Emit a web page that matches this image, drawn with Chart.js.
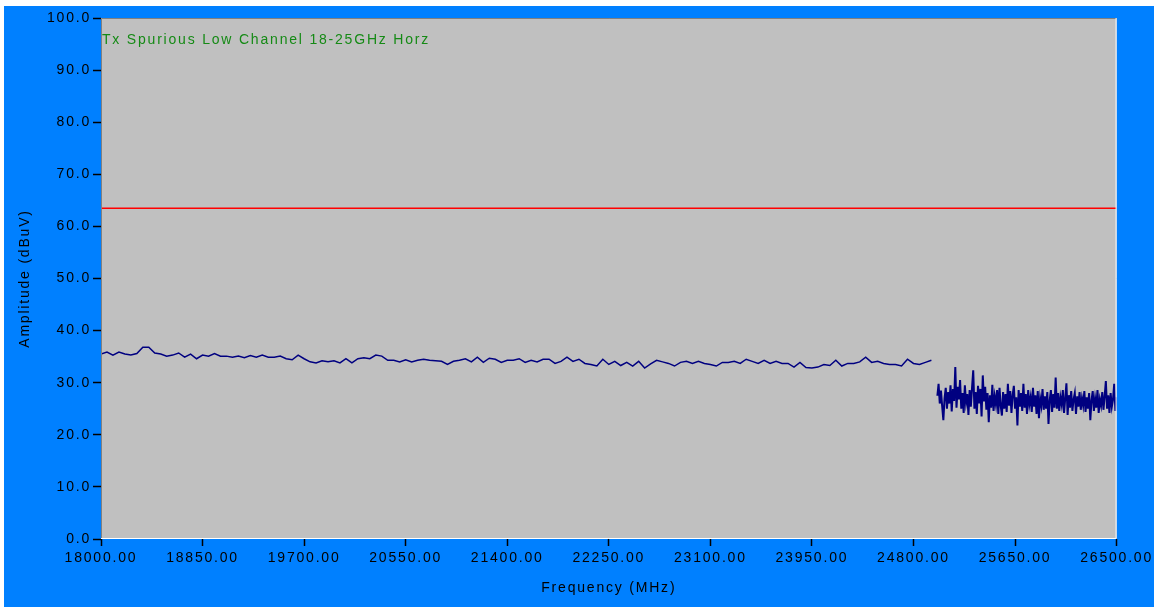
<!DOCTYPE html>
<html>
<head>
<meta charset="utf-8">
<script src="https://cdn.jsdelivr.net/npm/chart.js@4.4.1/dist/chart.umd.min.js"></script>
<style>
  html, body { margin: 0; padding: 0; background: #fff; }
</style>
</head>
<body>
<canvas id="chart" width="1157" height="607"></canvas>
<script>
// texts
const chartTitle = 'Tx Spurious Low Channel 18-25GHz Horz';
const xTitle = 'Frequency (MHz)';
const yTitle = 'Amplitude (dBuV)';

// axis range (MHz / dBuV)
const xMin = 18000, xMax = 26500, xStep = 850;
const yMin = 0, yMax = 100, yStep = 10;

// limit line
const limitLevel = 63.5;

// sweep 1: 18000 - 24950 MHz, 50 MHz steps
const sweep1Start = 18000, sweep1Step = 50;
const sweep1 = [
  35.5, 35.9, 35.3, 35.9, 35.5, 35.3, 35.6, 36.8, 36.8, 35.7,
  35.5, 35.1, 35.3, 35.7, 34.9, 35.5, 34.6, 35.3, 35.1, 35.6,
  35.1, 35.1, 34.9, 35.1, 34.8, 35.2, 34.9, 35.3, 34.9, 34.9,
  35.1, 34.6, 34.4, 35.3, 34.6, 34.0, 33.8, 34.2, 34.0, 34.2,
  33.8, 34.6, 33.8, 34.6, 34.8, 34.6, 35.3, 35.1, 34.3, 34.3,
  34.0, 34.4, 34.0, 34.3, 34.5, 34.3, 34.2, 34.1, 33.5, 34.1,
  34.3, 34.6, 34.0, 34.9, 33.9, 34.7, 34.5, 33.9, 34.3, 34.3,
  34.6, 33.9, 34.3, 34.0, 34.5, 34.5, 33.7, 34.1, 34.9, 34.1,
  34.5, 33.7, 33.5, 33.2, 34.5, 33.5, 34.1, 33.3, 33.9, 33.2,
  34.1, 32.8, 33.6, 34.3, 34.0, 33.7, 33.2, 33.9, 34.1, 33.7,
  34.1, 33.7, 33.5, 33.2, 33.9, 33.9, 34.1, 33.7, 34.5, 34.1,
  33.7, 34.3, 33.7, 34.1, 33.7, 33.7, 33.0, 33.9, 32.9, 32.8,
  33.0, 33.5, 33.3, 34.3, 33.2, 33.7, 33.7, 34.0, 34.9, 33.9,
  34.1, 33.7, 33.5, 33.5, 33.2, 34.5, 33.7, 33.5, 33.9, 34.3
];

// sweep 2: 25000 - 26500 MHz, 10 MHz steps
const sweep2Start = 25000, sweep2Step = 10;
const sweep2 = [
  27.5, 29.8, 26.0, 28.5, 25.5, 22.8, 27.0, 29.0, 25.0, 28.2,
  26.0, 29.5, 24.5, 28.8, 26.5, 33.0, 25.2, 29.2, 26.8, 30.5,
  25.0, 28.0, 24.2, 29.5, 26.2, 27.8, 23.8, 28.6, 25.4, 29.0,
  32.4, 25.0, 28.2, 24.0, 29.4, 26.0, 28.8, 23.5, 31.4, 26.4,
  29.2, 24.8, 28.0, 22.4, 27.6, 25.2, 29.6, 24.6, 27.4, 25.8,
  28.6, 24.0, 29.0, 25.6, 23.7, 28.2, 25.0, 27.8, 24.4, 29.8,
  25.6, 28.4, 24.2, 27.6, 29.4, 25.0, 27.2, 21.8, 28.6, 25.4,
  28.0, 24.6, 29.8, 25.2, 27.8, 24.0, 28.6, 25.8, 27.2, 24.4,
  29.0, 25.4, 27.6, 24.0, 28.4, 23.2, 27.0, 25.6, 28.8, 24.8,
  27.4, 25.0, 28.2, 22.1, 26.6, 28.6, 24.4, 27.8, 25.2, 31.0,
  25.0, 28.0, 24.6, 27.2, 25.8, 28.6, 24.2, 27.0, 29.9, 23.8,
  27.6, 25.2, 28.4, 24.6, 26.8, 28.0, 24.0, 27.4, 25.4, 28.2,
  24.8, 27.0, 25.6, 28.4, 24.4, 27.2, 25.0, 28.0, 22.8, 26.6,
  28.4, 24.6, 27.0, 25.2, 28.6, 24.2, 26.8, 25.6, 28.2, 24.8,
  27.4, 30.3, 25.0, 27.6, 24.2, 28.0, 25.4, 26.8, 29.8, 24.6,
  27.2
];

function toPoints(start, step, values) {
  return values.map((v, i) => ({ x: start + i * step, y: v }));
}

const FONT = 'Arial, "Liberation Sans", sans-serif';
const TEXT = '#000000';
const SIZE = 14;
const SPACING = '1.8px';

// the original text is drawn wide; widen it with letter spacing
function spaceText(chart) {
  if ('letterSpacing' in chart.ctx) chart.ctx.letterSpacing = SPACING;
}

const frame = {
  id: 'frame',
  beforeLayout(chart) { spaceText(chart); },
  beforeDraw(chart) {
    const { ctx, chartArea: a } = chart;
    spaceText(chart);
    ctx.save();
    ctx.fillStyle = '#ffffff';
    ctx.fillRect(0, 0, chart.width, chart.height);
    ctx.fillStyle = '#0080ff';
    ctx.fillRect(4, 6, 1150, 601);
    ctx.fillStyle = '#c0c0c0';
    ctx.fillRect(a.left, a.top, a.right - a.left, a.bottom - a.top);
    ctx.restore();
  },
  afterDatasetsDraw(chart) {
    const { ctx, chartArea: a } = chart;
    ctx.save();
    ctx.lineWidth = 1;
    ctx.strokeStyle = '#808080';
    ctx.beginPath();
    ctx.moveTo(a.left + 0.5, a.bottom);
    ctx.lineTo(a.left + 0.5, a.top + 0.5);
    ctx.lineTo(a.right, a.top + 0.5);
    ctx.stroke();
    ctx.strokeStyle = '#ffffff';
    ctx.beginPath();
    ctx.moveTo(a.left, a.bottom - 0.5);
    ctx.lineTo(a.right - 0.5, a.bottom - 0.5);
    ctx.lineTo(a.right - 0.5, a.top);
    ctx.stroke();
    // chart title inside the plot
    ctx.fillStyle = '#158a15';
    ctx.font = SIZE + 'px ' + FONT;
    ctx.textBaseline = 'middle';
    ctx.textAlign = 'left';
    ctx.fillText(chartTitle, a.left + 1, a.top + 22);
    ctx.restore();
  }
};

new Chart(document.getElementById('chart'), {
  type: 'line',
  data: {
    datasets: [
      {
        label: 'Limit',
        data: [{ x: xMin, y: limitLevel }, { x: xMax, y: limitLevel }],
        borderColor: '#ff0000',
        borderWidth: 1.5
      },
      {
        label: 'Sweep 1',
        data: toPoints(sweep1Start, sweep1Step, sweep1),
        borderColor: '#000080',
        borderWidth: 1.5
      },
      {
        label: 'Sweep 2',
        data: toPoints(sweep2Start, sweep2Step, sweep2),
        borderColor: '#000080',
        borderWidth: 2
      }
    ]
  },
  options: {
    responsive: false,
    animation: false,
    elements: { point: { radius: 0 }, line: { tension: 0 } },
    layout: { padding: { top: 18, right: 40, bottom: 0, left: 0 } },
    plugins: { legend: { display: false }, tooltip: { enabled: false } },
    scales: {
      x: {
        type: 'linear',
        min: xMin,
        max: xMax,
        afterFit(scale) { scale.height = 68; },
        afterBuildTicks(scale) {
          const t = [];
          for (let v = xMin; v <= xMax; v += xStep) t.push({ value: v });
          scale.ticks = t;
        },
        grid: { drawOnChartArea: false, drawTicks: true, tickLength: 7, tickColor: '#000', tickWidth: 1.5 },
        border: { display: false },
        ticks: {
          color: TEXT,
          font: { family: FONT, size: SIZE },
          padding: 4,
          maxRotation: 0,
          autoSkip: false,
          callback: v => Number(v).toFixed(2)
        },
        title: {
          display: true,
          text: xTitle,
          color: TEXT,
          font: { family: FONT, size: SIZE },
          padding: { top: 0, bottom: 10 }
        }
      },
      y: {
        min: yMin,
        max: yMax,
        afterFit(scale) { scale.width = 101; },
        grid: { drawOnChartArea: false, drawTicks: true, tickLength: 8, tickColor: '#000', tickWidth: 1.5 },
        border: { display: false },
        ticks: {
          stepSize: yStep,
          color: TEXT,
          font: { family: FONT, size: SIZE },
          padding: 2,
          callback: v => Number(v).toFixed(1)
        },
        title: {
          display: true,
          text: yTitle,
          color: TEXT,
          font: { family: FONT, size: SIZE },
          padding: { top: 17, bottom: 0 }
        }
      }
    }
  },
  plugins: [frame]
});
</script>
</body>
</html>
